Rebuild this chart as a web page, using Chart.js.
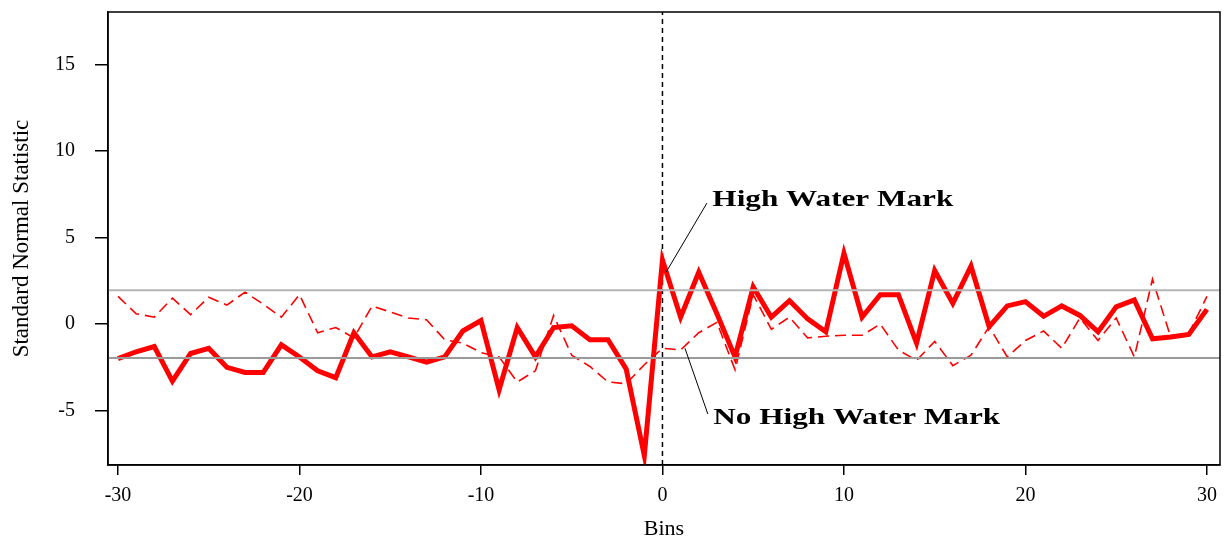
<!DOCTYPE html>
<html>
<head>
<meta charset="utf-8">
<script src="https://cdn.jsdelivr.net/npm/chart.js@4"></script>
<style>
  html, body { margin: 0; padding: 0; background: #fff; }
  #wrap { width: 1227px; height: 542px; }
</style>
</head>
<body>
<div id="wrap"><canvas id="chart" width="1227" height="542"></canvas></div>
<script>
// bins -30..30
const bins = [-30,-29,-28,-27,-26,-25,-24,-23,-22,-21,-20,-19,-18,-17,-16,-15,-14,-13,-12,-11,-10,
  -9,-8,-7,-6,-5,-4,-3,-2,-1,0,1,2,3,4,5,6,7,8,9,10,11,12,13,14,15,16,17,18,19,20,
  21,22,23,24,25,26,27,28,29,30];

const highWaterMark = [-2.0,-1.6,-1.3,-3.3,-1.7,-1.4,-2.5,-2.8,-2.8,-1.2,-1.9,-2.7,-3.1,-0.5,-1.9,-1.6,-1.9,-2.2,-1.9,-0.4,0.2,
  -3.8,-0.2,-1.9,-0.2,-0.1,-0.9,-0.9,-2.6,-7.6,3.7,0.4,3.0,0.6,-1.9,2.15,0.4,1.35,0.3,-0.45,4.1,
  0.4,1.7,1.7,-1.1,3.1,1.2,3.35,-0.15,1.05,1.3,0.45,1.05,0.5,-0.45,1.0,1.4,-0.85,-0.75,-0.6,0.85];

const noHighWaterMark = [1.6,0.6,0.4,1.5,0.55,1.55,1.1,1.85,1.15,0.4,1.7,-0.5,-0.2,-0.8,1.05,0.7,0.35,0.25,-0.9,-1.1,-1.65,
  -1.9,-3.35,-2.7,0.5,-1.8,-2.45,-3.35,-3.45,-2.35,-1.4,-1.5,-0.5,0.1,-2.65,1.7,-0.3,0.4,-0.8,-0.7,-0.65,
  -0.65,0.0,-1.5,-2.1,-1.0,-2.4,-1.8,-0.15,-1.9,-0.95,-0.4,-1.4,0.35,-0.95,0.35,-1.9,2.6,-0.75,-0.55,1.6];

const yTicks = [-5, 0, 5, 10, 15];
const xTicks = [-30, -20, -10, 0, 10, 20, 30];
const critical = 1.96;
const xMin = -30.55, xMax = 30.72;
const yMin = -8.15, yMax = 18.05;

const serif = '"Liberation Serif", "Times New Roman", serif';

const pts = (ys) => bins.map((b, i) => ({ x: b, y: ys[i] }));

// annotation labels, placed in data units
const notes = [
  { text: 'High Water Mark', x: 2.75, y: 7.2, from: { x: 0.2, y: 3.0 }, to: { x: 2.45, y: 7.0 } },
  { text: 'No High Water Mark', x: 2.8, y: -5.4, from: { x: 1.24, y: -1.4 }, to: { x: 2.5, y: -5.2 } }
];

const framePlugin = {
  id: 'frame',
  afterDatasetsDraw(chart) {
    const { ctx, chartArea: a } = chart;
    ctx.save();
    ctx.strokeStyle = '#000';
    ctx.lineWidth = 1.5;
    ctx.strokeRect(a.left, a.top, a.right - a.left, a.bottom - a.top);
    ctx.restore();
  }
};

const notePlugin = {
  id: 'notes',
  afterDatasetsDraw(chart) {
    const { ctx, scales: { x, y } } = chart;
    notes.forEach(n => {
      ctx.save();
      ctx.strokeStyle = '#000';
      ctx.lineWidth = 1;
      ctx.beginPath();
      ctx.moveTo(x.getPixelForValue(n.from.x), y.getPixelForValue(n.from.y));
      ctx.lineTo(x.getPixelForValue(n.to.x), y.getPixelForValue(n.to.y));
      ctx.stroke();
      // the source picture is stretched sideways a bit
      ctx.translate(x.getPixelForValue(n.x), y.getPixelForValue(n.y));
      ctx.scale(1.3, 1);
      ctx.fillStyle = '#000';
      ctx.font = 'bold 24px ' + serif;
      ctx.textAlign = 'left';
      ctx.textBaseline = 'middle';
      ctx.fillText(n.text, 0, 0);
      ctx.restore();
    });
  }
};

new Chart(document.getElementById('chart'), {
  type: 'line',
  data: {
    datasets: [
      {
        label: 'upper',
        data: [{ x: xMin, y: critical }, { x: xMax, y: critical }],
        borderColor: '#b4b4b4', borderWidth: 2, pointRadius: 0
      },
      {
        label: 'lower',
        data: [{ x: xMin, y: -critical }, { x: xMax, y: -critical }],
        borderColor: '#9a9a9a', borderWidth: 2, pointRadius: 0
      },
      {
        label: 'No High Water Mark',
        data: pts(noHighWaterMark),
        borderColor: '#ff0000', borderWidth: 1.6, borderDash: [11, 6],
        pointRadius: 0, tension: 0
      },
      {
        label: 'High Water Mark',
        data: pts(highWaterMark),
        borderColor: '#ff0000', borderWidth: 5, pointRadius: 0, tension: 0,
        borderJoinStyle: 'miter'
      },
      {
        label: 'zero',
        data: [{ x: 0, y: yMin }, { x: 0, y: yMax }],
        borderColor: '#000', borderWidth: 1.5, borderDash: [5, 4], pointRadius: 0
      }
    ]
  },
  options: {
    responsive: false,
    animation: false,
    events: [],
    layout: { padding: { top: 12, right: 7, left: 0, bottom: 0 } },
    plugins: { legend: { display: false }, tooltip: { enabled: false } },
    scales: {
      x: {
        type: 'linear', min: xMin, max: xMax,
        afterBuildTicks: (s) => { s.ticks = xTicks.map(v => ({ value: v })); },
        afterFit: (s) => { s.height = 77; s.paddingLeft = 0; s.paddingRight = 0; },
        grid: { drawOnChartArea: false, color: '#000', tickLength: 10, lineWidth: 1.5 },
        border: { color: '#000', width: 1.5 },
        ticks: { color: '#000', font: { family: serif, size: 20 }, padding: 9, maxRotation: 0 },
        title: { display: true, text: 'Bins', color: '#000', font: { family: serif, size: 22 }, padding: { top: 1, bottom: 0 } }
      },
      y: {
        type: 'linear', min: yMin, max: yMax,
        afterBuildTicks: (s) => { s.ticks = yTicks.map(v => ({ value: v })); },
        afterFit: (s) => { s.width = 108; s.paddingTop = 0; s.paddingBottom = 0; },
        grid: { drawOnChartArea: false, color: '#000', tickLength: 13, lineWidth: 1.5 },
        border: { color: '#000', width: 1.5 },
        ticks: { color: '#000', font: { family: serif, size: 20 }, padding: 20 },
        title: { display: true, text: 'Standard Normal Statistic', color: '#000', font: { family: serif, size: 23 }, padding: { top: 8, bottom: 2 } }
      }
    }
  },
  plugins: [framePlugin, notePlugin]
});
</script>
</body>
</html>
